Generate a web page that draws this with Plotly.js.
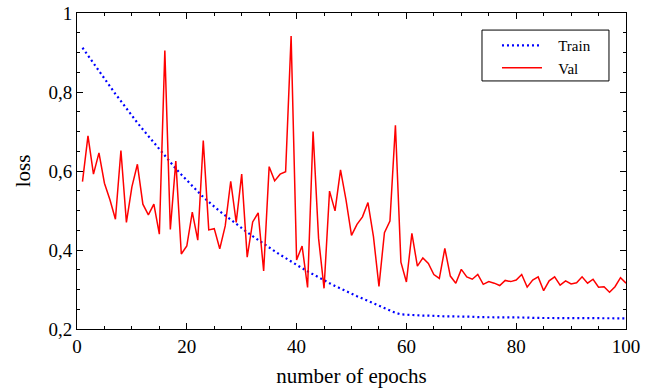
<!DOCTYPE html>
<html>
<head>
<meta charset="utf-8">
<script src="https://cdn.plot.ly/plotly-3.0.1.min.js"></script>
<style>
  html, body { margin: 0; padding: 0; background: #fff; }
  #chart { width: 648px; height: 389px; }
</style>
</head>
<body>
<div id="chart"></div>
<script>
// epochs 1..100
const epochs = [];
for (let i = 1; i <= 100; i++) epochs.push(i);

const trainLoss = [
  0.912, 0.892, 0.872, 0.852, 0.833, 0.814, 0.795, 0.777, 0.758, 0.740,
  0.722, 0.705, 0.688, 0.671, 0.654, 0.638, 0.622, 0.606, 0.591, 0.576,
  0.562, 0.548, 0.534, 0.521, 0.510, 0.498, 0.487, 0.476, 0.466, 0.456,
  0.445, 0.435, 0.425, 0.416, 0.406, 0.397, 0.388, 0.379, 0.371, 0.362,
  0.354, 0.346, 0.338, 0.330, 0.323, 0.316, 0.309, 0.302, 0.296, 0.289,
  0.283, 0.277, 0.271, 0.265, 0.259, 0.253, 0.247, 0.241, 0.237, 0.236,
  0.235, 0.235, 0.234, 0.234, 0.233, 0.233, 0.232, 0.232, 0.232, 0.231,
  0.231, 0.231, 0.230, 0.230, 0.230, 0.230, 0.229, 0.229, 0.229, 0.229,
  0.229, 0.229, 0.228, 0.228, 0.228, 0.228, 0.228, 0.228, 0.228, 0.228,
  0.228, 0.227, 0.227, 0.227, 0.227, 0.227, 0.227, 0.227, 0.227, 0.227
];

const valLoss = [
  0.573, 0.689, 0.592, 0.646, 0.569, 0.527, 0.478, 0.652, 0.470, 0.560,
  0.617, 0.516, 0.489, 0.516, 0.440, 0.905, 0.452, 0.625, 0.390, 0.410,
  0.496, 0.425, 0.677, 0.451, 0.454, 0.403, 0.461, 0.574, 0.470, 0.592,
  0.382, 0.471, 0.494, 0.347, 0.611, 0.575, 0.592, 0.598, 0.942, 0.375,
  0.410, 0.305, 0.700, 0.430, 0.303, 0.549, 0.499, 0.603, 0.527, 0.437,
  0.465, 0.484, 0.520, 0.434, 0.308, 0.444, 0.473, 0.716, 0.369, 0.319,
  0.442, 0.359, 0.380, 0.366, 0.338, 0.328, 0.404, 0.334, 0.316, 0.351,
  0.332, 0.326, 0.338, 0.313, 0.320, 0.316, 0.310, 0.323, 0.320, 0.324,
  0.338, 0.306, 0.324, 0.332, 0.297, 0.322, 0.332, 0.311, 0.322, 0.314,
  0.317, 0.332, 0.316, 0.326, 0.306, 0.307, 0.293, 0.307, 0.330, 0.316
];

const seriesNames = ["Train", "Val"];
const xTitle = "number of epochs";
const yTitle = "loss";

const FONT = "'Liberation Serif', 'Times New Roman', serif";
const PAD = "\u00a0\u00a0\u00a0";

const traces = [
  {
    x: epochs, y: trainLoss, name: PAD + seriesNames[0], type: "scatter", mode: "lines",
    line: { color: "#0000ff", width: 2.2, dash: "2px,3px" }
  },
  {
    x: epochs, y: valLoss, name: PAD + seriesNames[1], type: "scatter", mode: "lines",
    line: { color: "#ff0000", width: 1.5 }
  }
];

const axisCommon = {
  showgrid: false, zeroline: false,
  showline: true, linecolor: "#000", linewidth: 1,
  mirror: "allticks",
  ticks: "inside", ticklen: 6, tickwidth: 1, tickcolor: "#000",
  tickfont: { family: FONT, size: 19, color: "#000" }
};

const layout = {
  width: 648, height: 389,
  margin: { l: 77, r: 22, t: 13, b: 60 },
  paper_bgcolor: "#fff", plot_bgcolor: "#fff",
  separators: ",.",
  font: { family: FONT, color: "#000" },
  showlegend: true,
  xaxis: Object.assign({}, axisCommon, {
    range: [0, 100], dtick: 20, tick0: 0,
    minor: { dtick: 5, ticks: "inside", ticklen: 3, tickcolor: "#000", showgrid: false },
    title: { text: xTitle, font: { family: FONT, size: 21, color: "#000" }, standoff: 12 }
  }),
  yaxis: Object.assign({}, axisCommon, {
    range: [0.2, 1], dtick: 0.2, tick0: 0.2,
    minor: { dtick: 0.05, ticks: "inside", ticklen: 3, tickcolor: "#000", showgrid: false },
    title: { text: yTitle, font: { family: FONT, size: 21, color: "#000" }, standoff: 12 }
  }),
  legend: {
    x: 0.765, y: 0.949, xanchor: "left", yanchor: "top",
    bgcolor: "rgba(0,0,0,0)", borderwidth: 0,
    font: { family: FONT, size: 15, color: "#000" },
    itemwidth: 40
  },
  shapes: [{
    type: "rect", xref: "paper", yref: "paper",
    x0: 0.7377, x1: 0.969, y0: 0.785, y1: 0.946,
    line: { color: "#000", width: 1 }, fillcolor: "rgba(0,0,0,0)", layer: "above"
  }]
};

Plotly.newPlot("chart", traces, layout, { staticPlot: true, displayModeBar: false });
</script>
</body>
</html>
